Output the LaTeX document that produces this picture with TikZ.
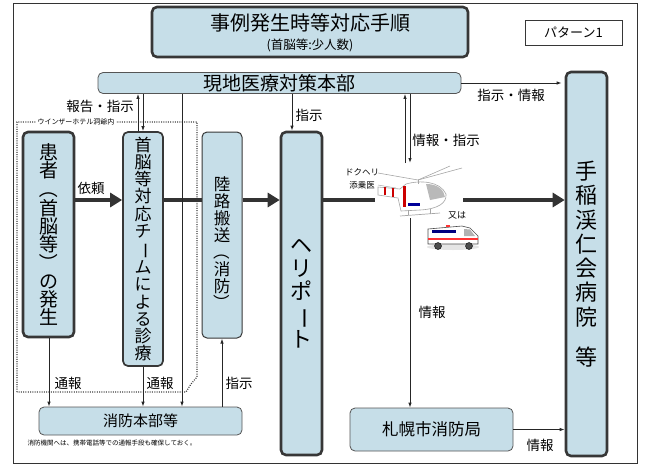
\documentclass[tikz,border=0pt]{standalone}
\usepackage{fontspec}
\usepackage{graphicx}
\setmainfont{Noto Sans CJK JP}
\usetikzlibrary{arrows.meta}
\definecolor{boxblue}{RGB}{198,222,232}
\definecolor{edge}{RGB}{55,55,55}
% glyphs turned upright for stacked (vertical) text
\newcommand{\vbar}{\rotatebox[origin=c]{-90}{ー}}
\newcommand{\vopen}{\rotatebox[origin=c]{-90}{（}}
\newcommand{\vclose}{\rotatebox[origin=c]{-90}{）}}

\begin{document}
\begin{tikzpicture}[x=1pt,y=-1pt,
  box/.style={fill=boxblue, rounded corners=5pt, inner sep=0pt, align=center},
  heavy/.style={box, draw=edge, line width=2.6pt},
  medium/.style={box, draw=edge, line width=1.7pt},
  light/.style={box, draw=edge!85, line width=0.8pt},
  flow/.style={line width=3.4pt, draw=black!80},
  flowhead/.style={flow, -{Triangle[length=12pt,width=14pt]}},
  conn/.style={line width=0.9pt, draw=black!85},
  connhead/.style={conn, -{Latex[length=5pt,width=3.5pt]}},
  lbl/.style={font=\fontsize{13.5}{14}\selectfont, inner sep=0pt},
  tiny/.style={font=\fontsize{8.5}{9}\selectfont, inner sep=0pt},
]
\useasboundingbox (0,0) rectangle (645,467);

% outer frame
\draw[line width=1pt, black!80] (13,3) rectangle (637,463);

% hotel area (dotted)
\draw[line width=1.2pt, black!75, dash pattern=on 1pt off 1.3pt]
  (17,392) -- (17,122) -- (197,122) -- (197,377) -- (191,384) -- (186,392) -- cycle;
\node[fill=white, inner sep=1.5pt, font=\fontsize{7}{8}\selectfont] (hotel) at (76,122) {ウインザーホテル洞爺内};

% title
\node[heavy, minimum width=316pt, minimum height=50pt] (title) at (310,32) {};
\node[font=\fontsize{20}{22}\selectfont, inner sep=0pt] (titletext) at (310,23) {事例発生時等対応手順};
\node[font=\fontsize{12.5}{14}\selectfont, inner sep=0pt] (subtitle) at (310,45) {(首脳等:少人数)};
\node[draw=edge, line width=0.8pt, fill=white, minimum width=97pt, minimum height=25pt,
      font=\fontsize{13}{14}\selectfont] (pattern) at (573.5,32.5) {パターン1};

% boxes
\node[light, minimum width=363pt, minimum height=21pt, font=\fontsize{19}{20}\selectfont] (genchi) at (279.5,83) {現地医療対策本部};
\node[heavy, minimum width=51pt, minimum height=205pt, font={\fontsize{19}{18.3}\selectfont}] (kanja) at (48.5,234.5)
  {患\\者\\\vopen\\首\\脳\\等\\\vclose\\の\\発\\生};
\node[medium, minimum width=40pt, minimum height=234pt, font={\fontsize{17}{17.25}\selectfont}] (team) at (143,249)
  {首\\脳\\等\\対\\応\\チ\\\vbar\\ム\\に\\よ\\る\\診\\療};
\node[box, draw=edge, line width=1pt, minimum width=40pt, minimum height=206pt] (rikuro) at (222,235) {};
\node[font={\fontsize{16.5}{17}\selectfont}, align=center, inner sep=0pt] (rikurotext) at (222,244)
  {陸\\路\\搬\\送\\\vopen\\消\\防\\\vclose};
\node[heavy, minimum width=41pt, minimum height=323pt, font={\fontsize{22}{23}\selectfont}] (heliport) at (301.5,293.5)
  {ヘ\\リ\\ポ\\\vbar\\ト};
\node[heavy, minimum width=41pt, minimum height=384pt, font={\fontsize{22}{24.3}\selectfont}] (hosp) at (586.5,264)
  {手\\稲\\渓\\仁\\会\\病\\院\\[15.7pt]等};
\node[light, minimum width=203pt, minimum height=28pt, font=\fontsize{15}{16}\selectfont] (shobo) at (140.5,421) {消防本部等};
\node[light, minimum width=163pt, minimum height=43pt, font=\fontsize{16.5}{17}\selectfont] (sapporo) at (431.5,429.5) {札幌市消防局};
\node[font=\fontsize{6.5}{7}\selectfont, inner sep=0pt] (caption) at (112,443) {消防機関へは、携帯電話等での通報手段も確保しておく。};

% reference points
\coordinate (flowy) at (0,200);
\coordinate (copterL) at (375,200);
\coordinate (copterR) at (463,200);
\coordinate (copterTop) at (0,163);
\coordinate (copterBot) at (410,218);
\coordinate (rx1) at (138,0);
\coordinate (rx2) at (143,0);
\coordinate (dx) at (182,0);
\coordinate (hx) at (292,0);
\coordinate (ix1) at (405,0);
\coordinate (ix2) at (410,0);
\coordinate (kx) at (49,0);

% main flow
\draw[flowhead] (kanja.east |- flowy) -- (team.west |- flowy);
\draw[flow] (team.east |- flowy) -- (rikuro.west |- flowy);
\draw[flowhead] (rikuro.east |- flowy) -- (heliport.west |- flowy);
\draw[flow] (heliport.east |- flowy) -- (copterL);
\draw[flowhead] (copterR) -- (hosp.west |- flowy);

% thin connectors
\draw[connhead, shorten >=3pt] (genchi.east) -- (hosp.west |- genchi.east);
\draw[connhead] (team.north -| rx1) -- (genchi.south -| rx1);
\draw[connhead] (genchi.south -| rx2) -- (team.north -| rx2);
\draw[connhead] (genchi.south -| dx) -- (shobo.north -| dx);
\draw[connhead] (genchi.south -| hx) -- (heliport.north -| hx);
\draw[connhead] (copterTop -| ix1) -- (genchi.south -| ix1);
\draw[connhead] (genchi.south -| ix2) -- (copterTop -| ix2);
\draw[connhead] (copterBot) -- (sapporo.north -| copterBot);
\draw[connhead] (sapporo.east) -- (hosp.west |- sapporo.east);
\draw[connhead] (kanja.south -| kx) -- (shobo.north -| kx);
\draw[connhead] (team.south) -- (shobo.north -| team.south);
\draw[connhead] (shobo.north -| rikuro.south) -- (rikuro.south);

% labels
\node[lbl] (l-irai) at (91,188) {依頼};
\node[lbl] (l-hokoku) at (100,106) {報告・指示};
\node[lbl] (l-shiji1) at (309,115) {指示};
\node[lbl] (l-shijijoho) at (511,95) {指示・情報};
\node[lbl] (l-johoshiji) at (446,140) {情報・指示};
\node[lbl] (l-joho1) at (432,312) {情報};
\node[lbl] (l-joho2) at (540,445) {情報};
\node[lbl] (l-tsuho1) at (68,383) {通報};
\node[lbl] (l-tsuho2) at (160,383) {通報};
\node[lbl] (l-shiji2) at (239,383) {指示};

% helicopter
\node[tiny] (l-doku) at (362,172) {ドクヘリ};
\node[tiny] (l-tenjo) at (362,185) {添乗医};
\draw[gray!70, line width=0.6pt] (378,173) -- (418,180) -- (462,168);
\draw[gray!70, line width=0.6pt] (418,180) -- (450,166);
\draw[gray!70, line width=0.5pt] (378,185) -- (396,188);
\filldraw[fill=white, draw=gray!70, line width=0.6pt]
  (378,187) -- (400,189) -- (406,184) .. controls (420,180) and (440,181) .. (446,194)
  .. controls (447,203) and (438,209) .. (420,210) -- (401,211) -- (398,198) -- (378,195) -- cycle;
\fill[gray!55] (426,184) .. controls (438,184) and (444,190) .. (445,197) -- (430,200) -- cycle;
\fill[red!80!black] (384,187) rectangle (386,195);
\fill[red!80!black] (392,188) rectangle (394,197);
\fill[red!80!black] (403,186) rectangle (406,207);
\fill[blue!60!black] (408,203) rectangle (420,206);
\draw[gray!70, line width=0.6pt] (418,180) -- (418,184);
\draw[gray!70, line width=0.7pt] (400,216) -- (440,213);
\draw[gray!70, line width=0.5pt] (408,210) -- (408,215) (430,209) -- (430,214);

% ambulance
\node[tiny, font=\fontsize{9}{10}\selectfont] (l-mata) at (457,215) {又は};
\fill[gray!20] (453,247) ellipse (26pt and 3pt);
\filldraw[fill=white, draw=black!70, line width=0.6pt]
  (428,244) -- (428,229) -- (462,226) -- (470,228) -- (478,236) -- (478,244) -- cycle;
\fill[gray!60] (464,229) -- (470,229.5) -- (475,236) -- (464,236) -- cycle;
\fill[blue!50!black] (432,230) rectangle (456,233);
\fill[red!80] (428,238) rectangle (478,239.5);
\fill[red!80] (446,225) rectangle (450,227);
\filldraw[fill=black!70, draw=black] (438,246) circle (3.5pt) (469,246) circle (3.5pt);
\end{tikzpicture}
\end{document}
